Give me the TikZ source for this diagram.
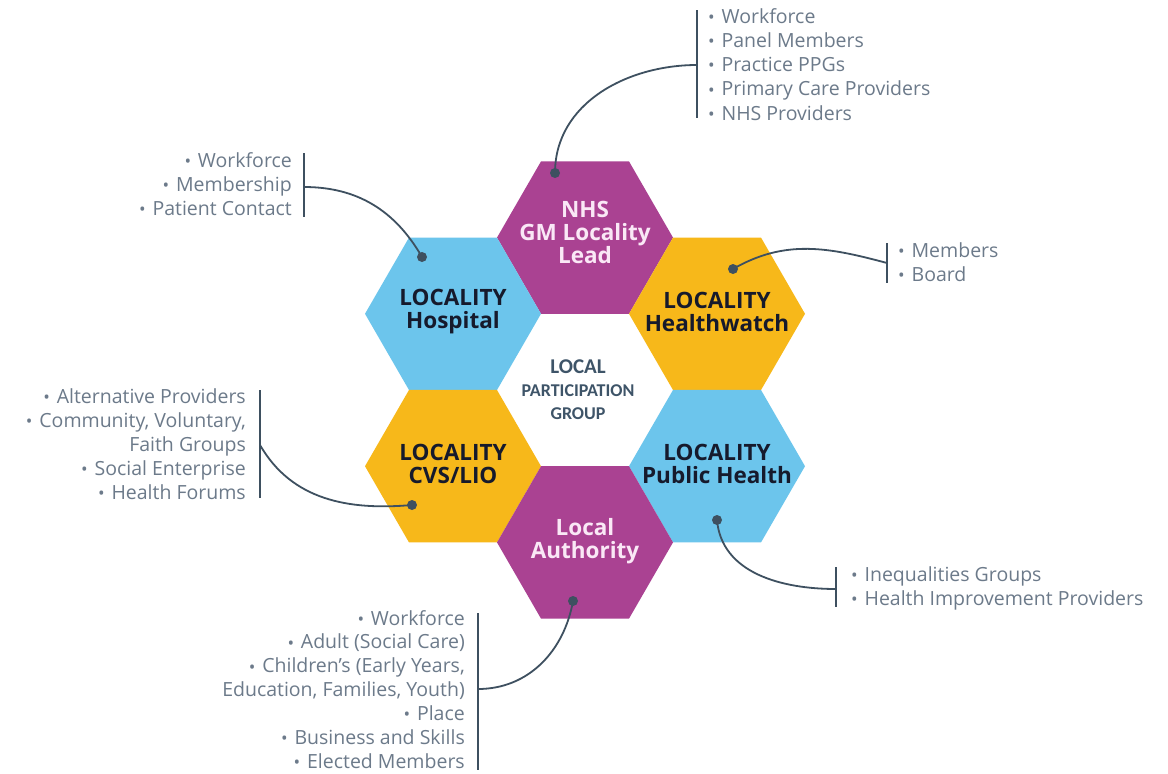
\documentclass[tikz,border=0pt]{standalone}
\usepackage{fontspec}
\usepackage{graphicx}
\setmainfont{Open Sans}
\newfontfamily\ctrfont{Carlito}
\usetikzlibrary{shapes.geometric}
\definecolor{hexpurple}{RGB}{170,66,146}
\definecolor{hexblue}{RGB}{108,197,236}
\definecolor{hexyellow}{RGB}{247,184,26}
\definecolor{lbldark}{RGB}{22,26,44}
\definecolor{lbllight}{RGB}{250,232,246}
\definecolor{ctrtext}{RGB}{62,84,104}
\definecolor{listgray}{RGB}{108,122,138}
\definecolor{linkcol}{RGB}{62,80,96}
\newcommand\lbul{\raisebox{-0.01em}{\scalebox{0.9}{•}}\hspace{0.35em}}
\tikzset{
  hexcell/.style={regular polygon, regular polygon sides=6, minimum size=176pt, inner sep=0pt, outer sep=0pt, draw=none},
  hexlbl/.style={font=\bfseries\fontsize{22.5}{23}\selectfont, align=center, text=lbldark, inner sep=0pt},
  listline/.style={font=\fontsize{19.5}{22}\selectfont, text=listgray, inner sep=0pt},
  barline/.style={draw=linkcol, line width=1.8pt},
  linkline/.style={draw=linkcol, line width=1.8pt},
  dotmark/.style={circle, fill=linkcol, minimum size=10pt, inner sep=0pt, outer sep=0pt}
}
\begin{document}
\begin{tikzpicture}[x=1pt,y=-1pt]
\fill[white] (0,0) rectangle (1168,774);
\useasboundingbox (0,0) rectangle (1168,774);

% honeycomb
\node[hexcell, fill=hexpurple] (nhs)  at (585,237.6) {};
\node[hexcell, fill=hexblue]   (hosp) at (453,313.8) {};
\node[hexcell, fill=hexyellow] (hw)   at (717,313.8) {};
\node[hexcell, fill=hexyellow] (cvs)  at (453,466.2) {};
\node[hexcell, fill=hexblue]   (ph)   at (717,466.2) {};
\node[hexcell, fill=hexpurple] (la)   at (585,542.4) {};

% labels
\node[hexlbl, text=lbllight] (nhs-t) at (585,232) {NHS\\GM Locality\\Lead};
\node[hexlbl] (hosp-t) at (453,312) {LOCALITY\\Hospital};
\node[hexlbl] (hw-t)   at (717,312) {LOCALITY\\Healthwatch};
\node[hexlbl] (cvs-t)  at (453,464) {LOCALITY\\CVS/LIO};
\node[hexlbl] (ph-t)   at (717,464) {LOCALITY\\Public Health};
\node[hexlbl, text=lbllight] (la-t) at (585,541) {Local\\Authority};
\node[font=\ctrfont\bfseries\fontsize{18}{23}\selectfont, align=center, text=ctrtext, inner sep=0pt] (ctr)
  at (578,390) {{\fontsize{21}{23}\selectfont LOCAL}\\PARTICIPATION\\GROUP};

% dots
\node[dotmark] (nhsdot)  at (555,173) {};
\node[dotmark] (hospdot) at (422,257) {};
\node[dotmark] (hwdot)   at (733,269) {};
\node[dotmark] (phdot)   at (717,520) {};
\node[dotmark] (cvsdot)  at (412,505) {};
\node[dotmark] (ladot)   at (573,601) {};

% bars
\coordinate (nhsbt) at (697,10);  \coordinate (nhsbb) at (697,118); \coordinate (nhsj) at (697,65);
\coordinate (hospbt) at (304,153); \coordinate (hospbb) at (304,217); \coordinate (hospj) at (304,187);
\coordinate (hwbt) at (887,243); \coordinate (hwbb) at (887,283); \coordinate (hwj) at (887,263);
\coordinate (phbt) at (836,567); \coordinate (phbb) at (836,607); \coordinate (phj) at (836,589);
\coordinate (cvsbt) at (260,390); \coordinate (cvsbb) at (260,498); \coordinate (cvsj) at (260,445);
\coordinate (labt) at (478,613); \coordinate (labb) at (478,770); \coordinate (laj) at (478,689);
\draw[barline] (nhsbt) -- (nhsbb);
\draw[barline] (hospbt) -- (hospbb);
\draw[barline] (hwbt) -- (hwbb);
\draw[barline] (phbt) -- (phbb);
\draw[barline] (cvsbt) -- (cvsbb);
\draw[barline] (labt) -- (labb);

% connectors
\draw[linkline] (nhsdot.center) to[out=90, in=180] (nhsj);
\draw[linkline] (hospj) to[out=0, in=120] (hospdot.center);
\draw[linkline] (hwdot.center) to[out=30, in=165] (hwj);
\draw[linkline] (phdot.center) to[out=-85, in=180] (phj);
\draw[linkline] (cvsj) to[out=-60, in=185] (cvsdot.center);
\draw[linkline] (ladot.center) to[out=-100, in=0] (laj);

% lists
\foreach \t [count=\i] in {Workforce, Panel Members, Practice PPGs, Primary Care Providers, NHS Providers}
  \node[listline, anchor=base west] (nhsl-\i) at (708, {23+(\i-1)*24.3}) {\lbul\t};
\foreach \t [count=\i] in {Workforce, Membership, Patient Contact}
  \node[listline, anchor=base east] (hospl-\i) at (292, {167+(\i-1)*24.3}) {\lbul\t};
\foreach \t [count=\i] in {Members, Board}
  \node[listline, anchor=base west] (hwl-\i) at (898, {257+(\i-1)*24.3}) {\lbul\t};
\foreach \t [count=\i] in {Inequalities Groups, Health Improvement Providers}
  \node[listline, anchor=base west] (phl-\i) at (851, {581+(\i-1)*24.3}) {\lbul\t};
\foreach \t [count=\i] in {{\lbul Alternative Providers}, {\lbul Community, Voluntary,}, {Faith Groups}, {\lbul Social Enterprise}, {\lbul Health Forums}}
  \node[listline, anchor=base east] (cvsl-\i) at (246, {403+(\i-1)*24}) {\t};
\foreach \t [count=\i] in {{\lbul Workforce}, {\lbul Adult (Social Care)}, {\lbul Children’s (Early Years,}, {Education, Families, Youth)}, {\lbul Place}, {\lbul Business and Skills}, {\lbul Elected Members}}
  \node[listline, anchor=base east] (lal-\i) at (465, {625+(\i-1)*23.9}) {\t};
\end{tikzpicture}
\end{document}
